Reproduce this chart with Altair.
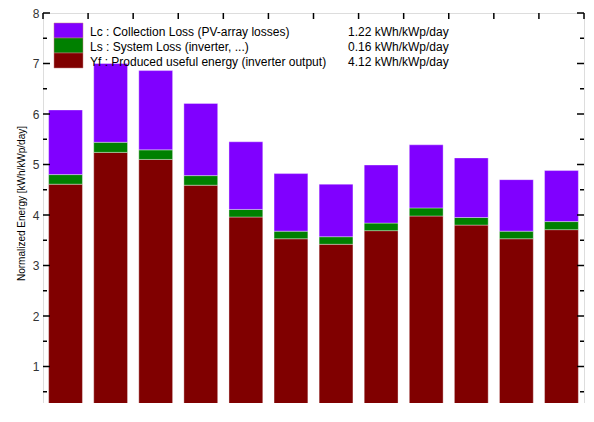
import altair as alt
import pandas as pd

months = ["Jan", "Feb", "Mar", "Apr", "May", "Jun", "Jul", "Aug", "Sep", "Oct", "Nov", "Dec"]
yf = [4.61, 5.24, 5.10, 4.59, 3.96, 3.53, 3.42, 3.69, 3.98, 3.80, 3.53, 3.71]
ls = [0.19, 0.20, 0.19, 0.19, 0.15, 0.15, 0.15, 0.15, 0.16, 0.15, 0.15, 0.16]
lc = [1.28, 1.56, 1.57, 1.43, 1.34, 1.14, 1.04, 1.15, 1.25, 1.18, 1.02, 1.01]

components = ["Yf", "Ls", "Lc"]
colors = ["#800000", "#008000", "#8000FF"]
legend_labels = ["Lc : Collection Loss (PV-array losses)",
                 "Ls : System Loss  (inverter, ...)",
                 "Yf : Produced useful energy  (inverter output)"]
legend_values = ["1.22 kWh/kWp/day", "0.16 kWh/kWp/day", "4.12 kWh/kWp/day"]
legend_colors = ["#8000FF", "#008000", "#800000"]

major_ticks = [0, 1, 2, 3, 4, 5, 6, 7, 8]
minor_ticks = [0.5, 1.5, 2.5, 3.5, 4.5, 5.5, 6.5, 7.5]
band_edges = list(range(13))

W, H = 541, 404
FONT = "Liberation Sans"

rows = []
for i, m in enumerate(months):
    for k, (c, v) in enumerate(zip(components, [yf[i], ls[i], lc[i]])):
        rows.append({"month": m, "comp": c, "value": v, "ord": k})
df = pd.DataFrame(rows)

yscale = alt.Scale(domain=[0, 8], nice=False)
y_axis = alt.Axis(values=major_ticks, ticks=False, domain=False, grid=False,
                  title="Normalized Energy [kWh/kWp/day]",
                  titleFontSize=10, titleFontWeight="normal", titleFont=FONT,
                  titleColor="black", titleX=-22, titleY=190, titleAngle=270,
                  titleAlign="center", titleBaseline="middle",
                  labelFont=FONT, labelFontSize=12, labelColor="#333333",
                  labelPadding=4)

bars = alt.Chart(df).mark_bar(stroke="white", strokeWidth=0.6, strokeOpacity=0.6).encode(
    x=alt.X("month:N", sort=months,
            scale=alt.Scale(domain=months, paddingInner=0.25, paddingOuter=0.125),
            axis=None),
    y=alt.Y("value:Q", stack="zero", scale=yscale, axis=y_axis),
    color=alt.Color("comp:N", scale=alt.Scale(domain=components, range=colors), legend=None),
    order=alt.Order("ord:Q"),
)

major_df = pd.DataFrame({"v": major_ticks})
minor_df = pd.DataFrame({"v": minor_ticks})

def ytick_layer(d, x0, x1):
    return alt.Chart(d).mark_rule(color="black", strokeWidth=1.5).encode(
        y=alt.Y("v:Q", scale=yscale, axis=y_axis),
        x=alt.value(x0), x2=alt.value(x1))

edges_df = pd.DataFrame({"b": band_edges})

def xtick_layer(y0, y1):
    return alt.Chart(edges_df).mark_rule(color="black", strokeWidth=1.5).encode(
        x=alt.X("b:Q", scale=alt.Scale(domain=[0, 12], nice=False), axis=None),
        y=alt.value(y0), y2=alt.value(y1))

leg_df = pd.DataFrame({"label": legend_labels, "val": legend_values,
                       "col": legend_colors, "i": [0, 1, 2]})
leg_df["y0"] = 10 + leg_df["i"] * 15
leg_df["y1"] = leg_df["y0"] + 15
leg_df["ty"] = leg_df["y0"] + 9

swatch = alt.Chart(leg_df).mark_rect(stroke="#c08080", strokeWidth=0.5).encode(
    x=alt.value(11), x2=alt.value(40),
    y=alt.Y("y0:Q", scale=None), y2="y1:Q",
    color=alt.Color("col:N", scale=None, legend=None))

leg_text = alt.Chart(leg_df).mark_text(align="left", baseline="middle", font=FONT,
                                       fontSize=12, color="black").encode(
    x=alt.value(47), y=alt.Y("ty:Q", scale=None), text="label:N")

leg_val = alt.Chart(leg_df).mark_text(align="left", baseline="middle", font=FONT,
                                      fontSize=12, color="black").encode(
    x=alt.value(305), y=alt.Y("ty:Q", scale=None), text="val:N")

chart = alt.layer(
    bars,
    ytick_layer(major_df, 0, 7), ytick_layer(minor_df, 0, 4),
    ytick_layer(major_df, W - 7, W), ytick_layer(minor_df, W - 4, W),
    xtick_layer(0, 6), xtick_layer(H - 6, H),
    swatch, leg_text, leg_val,
).resolve_scale(x="independent").properties(
    width=W, height=H,
    autosize=alt.AutoSizeParams(type="none"),
    padding={"left": 35, "top": 5, "right": 2, "bottom": -14},
).configure_view(stroke="black", strokeWidth=2).configure(background="white")

chart.save("out.html", embed_options={"renderer": "svg", "actions": False})
